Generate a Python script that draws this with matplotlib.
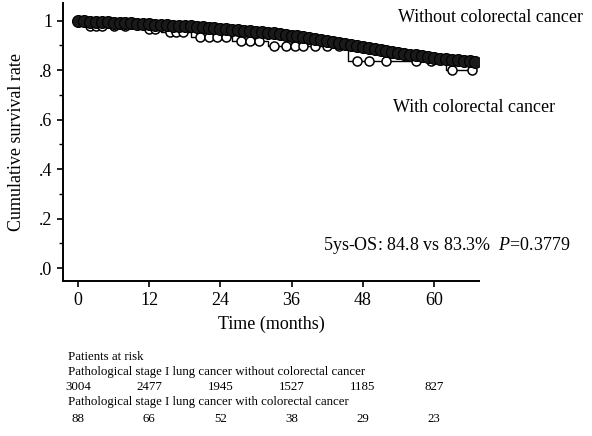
import numpy as np
import matplotlib
matplotlib.use("Agg")
import matplotlib.pyplot as plt
import matplotlib.transforms as mtransforms

plt.rcParams['font.family'] = ['Liberation Serif', 'DejaVu Serif']
plt.rcParams['mathtext.fontset'] = 'custom'
plt.rcParams['mathtext.rm'] = 'Liberation Serif'
plt.rcParams['mathtext.it'] = 'Liberation Serif:italic'

# ---- data ----
month_ticks = [0, 12, 24, 36, 48, 60]
ytick_vals = [0.0, 0.2, 0.4, 0.6, 0.8, 1.0]
ytick_labels = ['.0', '.2', '.4', '.6', '.8', '1']

at_risk_without = [3004, 2477, 1945, 1527, 1185, 827]
at_risk_with = [88, 66, 52, 38, 29, 23]

# Without colorectal cancer (step times, survival)
without_time = [0, 1, 2, 3, 4, 5, 6, 7, 8, 9, 10, 11, 12, 13, 14, 15, 16, 17,
                18, 19, 20, 21, 22, 23, 24, 25, 26, 27, 28, 29, 30, 31, 32, 33,
                34, 35, 36, 37, 38, 39, 40, 41, 42, 43, 44, 45, 46, 47, 48, 49,
                50, 51, 52, 53, 54, 55, 56, 57, 58, 59, 60, 61, 62, 63, 64, 65,
                66, 67]
without_surv = [1.000, 0.998, 0.996, 0.995, 0.994, 0.993, 0.992, 0.991, 0.990,
                0.989, 0.988, 0.987, 0.985, 0.984, 0.983, 0.982, 0.980, 0.979,
                0.978, 0.977, 0.975, 0.973, 0.971, 0.969, 0.967, 0.965, 0.963,
                0.961, 0.959, 0.957, 0.955, 0.953, 0.951, 0.948, 0.945, 0.942,
                0.939, 0.936, 0.932, 0.928, 0.924, 0.920, 0.916, 0.912, 0.908,
                0.904, 0.900, 0.896, 0.892, 0.888, 0.884, 0.880, 0.876, 0.872,
                0.868, 0.865, 0.862, 0.859, 0.856, 0.852, 0.848, 0.846, 0.844,
                0.842, 0.840, 0.838, 0.836, 0.834]

# With colorectal cancer (step times, survival)
with_time = [0, 1.5, 11, 14, 19, 26, 32, 45.5, 62, 67]
with_surv = [1.000, 0.977, 0.965, 0.953, 0.935, 0.918, 0.898, 0.837, 0.800, 0.800]
with_censor = [2, 3, 4, 6, 8, 12, 13, 15.5, 16.5, 17.7, 20.5, 22, 23.5, 25,
               27.5, 29, 30.5, 33, 35, 36.5, 38, 40, 42, 44, 47, 49, 52, 57,
               59.5, 63, 66.5]

W, H = 592, 436
fig = plt.figure(figsize=(W / 100, H / 100), dpi=100)
ax = fig.add_axes([63 / W, 1 - 281 / H, (479 - 63) / W, (281 - 3) / H])

# with colorectal cancer curve
ax.step(with_time, with_surv, where='post', color='black', lw=1.0, zorder=2)
idx = np.searchsorted(with_time, with_censor, side='right') - 1
cens_y = np.array(with_surv)[idx]
ax.plot(with_censor, cens_y, linestyle='none', marker='o', markersize=6.5,
        markerfacecolor='white', markeredgecolor='black', markeredgewidth=1.1,
        zorder=3)

# without colorectal cancer curve (dense censor marks)
ax.step(without_time, without_surv, where='post', color='black', lw=1.0, zorder=4)
ax.plot(without_time, without_surv, linestyle='none', marker='o', markersize=8.6,
        markerfacecolor='#1a1a1a', markeredgecolor='black', markeredgewidth=0.8,
        zorder=5)

ax.set_xlim(-2.53, 67.6)
ax.set_ylim(-0.0525, 1.071)
ax.set_xticks(month_ticks)
ax.set_xticklabels([str(m) for m in month_ticks], fontsize=13)
ax.set_yticks(ytick_vals)
ax.set_yticklabels(ytick_labels, fontsize=13)
ax.set_yticks([0.1, 0.3, 0.5, 0.7, 0.9], minor=True)
ax.tick_params(axis='both', which='major', direction='out', length=4, width=1.2)
ax.tick_params(axis='y', which='minor', direction='out', length=3, width=1)
ax.tick_params(axis='x', pad=4)
for s in ['top', 'right']:
    ax.spines[s].set_visible(False)
for s in ['left', 'bottom']:
    ax.spines[s].set_linewidth(1.4)

ax.set_xlabel('Time (months)', fontsize=13, labelpad=5)
ax.set_ylabel('Cumulative survival rate', fontsize=13, labelpad=10)

# annotations
fig.text(398 / W, 1 - 18 / H, 'Without colorectal cancer', fontsize=13,
         ha='left', va='center')
fig.text(393 / W, 1 - 107 / H, 'With colorectal cancer', fontsize=13,
         ha='left', va='center')
fig.text(323 / W, 1 - 245 / H, r'5ys-OS: 84.8 vs 83.3%  $\mathit{P}$=0.3779',
         fontsize=13, ha='left', va='center')

# patients at risk table
fs = 9.3
fig.text(68 / W, 1 - 357 / H, 'Patients at risk', fontsize=fs, ha='left', va='center')
fig.text(68 / W, 1 - 372 / H, 'Pathological stage I lung cancer without colorectal cancer',
         fontsize=fs, ha='left', va='center')
fig.text(68 / W, 1 - 402 / H, 'Pathological stage I lung cancer with colorectal cancer',
         fontsize=fs, ha='left', va='center')
trans = mtransforms.blended_transform_factory(ax.transData, fig.transFigure)
for m, n in zip(month_ticks, at_risk_without):
    fig.text(m, 1 - 387 / H, str(n), fontsize=fs, ha='center', va='center',
             transform=trans)
for m, n in zip(month_ticks, at_risk_with):
    fig.text(m, 1 - 419 / H, str(n), fontsize=fs, ha='center', va='center',
             transform=trans)

fig.savefig('out.png', dpi=100)
